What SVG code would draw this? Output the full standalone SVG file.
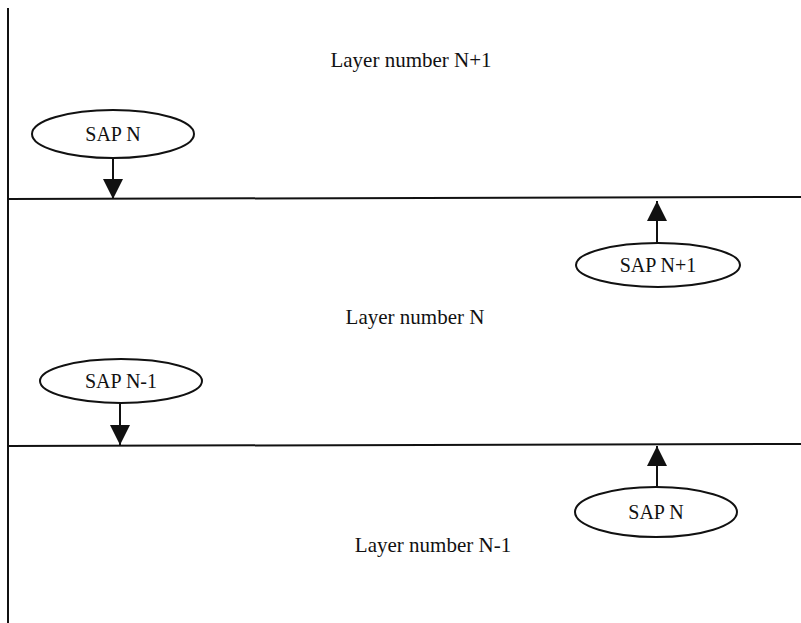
<svg xmlns="http://www.w3.org/2000/svg" width="801" height="623" viewBox="0 0 801 623">
  <style>
    .rule { stroke: #111; stroke-width: 2; fill: none; }
    .sap ellipse { fill: #fff; stroke: #111; stroke-width: 2; }
    .lbl { font-family: "Liberation Serif", "Times New Roman", serif; font-size: 20px; fill: #111; }
    .layer { font-family: "Liberation Serif", "Times New Roman", serif; font-size: 21px; fill: #111; text-anchor: middle; }
    .conn { stroke: #111; stroke-width: 2; fill: none; }
  </style>
  <defs>
    <marker id="head" viewBox="0 0 20 20" refX="20" refY="10" markerWidth="20" markerHeight="20" markerUnits="userSpaceOnUse" orient="auto">
      <path d="M0,0 L20,10 L0,20 Z" fill="#111"/>
    </marker>
  </defs>
  <rect width="801" height="623" fill="#fff"/>

  <!-- layer boundaries -->
  <g id="boundaries">
    <line class="rule" x1="8" y1="8" x2="8" y2="623"/>
    <line class="rule" x1="8" y1="199" x2="801" y2="197"/>
    <line class="rule" x1="8" y1="446" x2="801" y2="444"/>
  </g>

  <!-- layer titles -->
  <g id="layer-n-plus-1"><text class="layer" x="411" y="67">Layer number N+1</text></g>
  <g id="layer-n"><text class="layer" x="415" y="324">Layer number N</text></g>
  <g id="layer-n-minus-1"><text class="layer" x="433" y="552">Layer number N-1</text></g>

  <!-- service access points -->
  <g id="sap-n-top" class="sap">
    <ellipse cx="113" cy="134" rx="81" ry="24"/>
    <text class="lbl" x="113" y="141" text-anchor="middle">SAP N</text>
  </g>
  <g id="sap-n-plus-1" class="sap">
    <ellipse cx="658" cy="265" rx="82" ry="22"/>
    <text class="lbl" x="658" y="272" text-anchor="middle">SAP N+1</text>
  </g>
  <g id="sap-n-minus-1" class="sap">
    <ellipse cx="121" cy="381" rx="81" ry="22"/>
    <text class="lbl" x="121" y="388" text-anchor="middle">SAP N-1</text>
  </g>
  <g id="sap-n-bottom" class="sap">
    <ellipse cx="656" cy="512" rx="81" ry="25"/>
    <text class="lbl" x="656" y="519" text-anchor="middle">SAP N</text>
  </g>

  <!-- connectors -->
  <g id="connectors">
    <line class="conn" x1="113" y1="158" x2="113" y2="199" marker-end="url(#head)"/>
    <line class="conn" x1="657" y1="243" x2="657" y2="201" marker-end="url(#head)"/>
    <line class="conn" x1="120" y1="403" x2="120" y2="445" marker-end="url(#head)"/>
    <line class="conn" x1="657" y1="487" x2="657" y2="446" marker-end="url(#head)"/>
  </g>
</svg>
